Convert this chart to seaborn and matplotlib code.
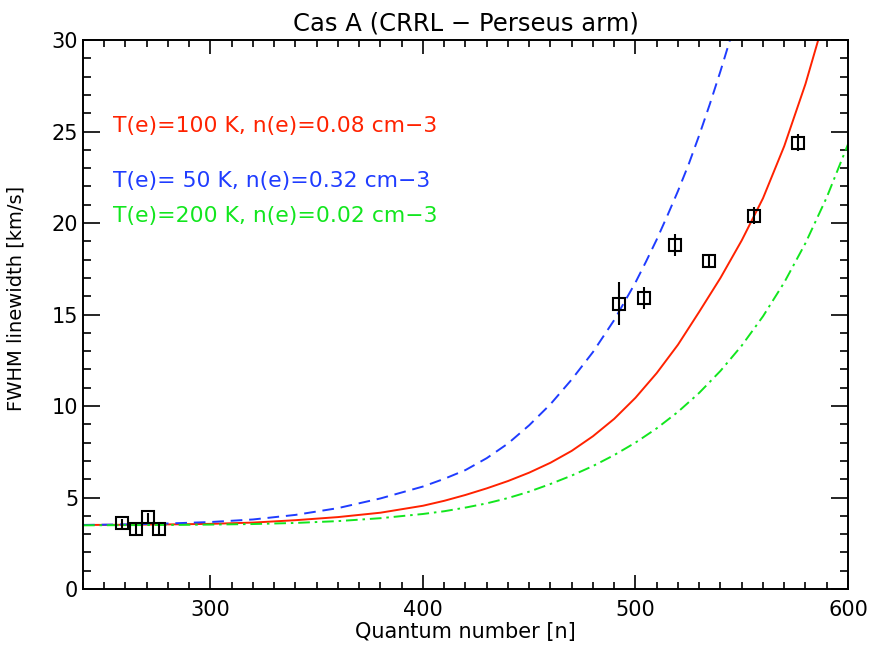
import numpy as np
import pandas as pd
import matplotlib
matplotlib.use("Agg")
import matplotlib.pyplot as plt
from matplotlib.ticker import MultipleLocator
import seaborn as sns

# Observed data
obs_n = [258.3, 264.9, 270.5, 275.7, 492.1, 504.0, 518.4, 534.8, 556.0, 576.6]
obs_fwhm = [3.6, 3.28, 3.93, 3.28, 15.6, 15.9, 18.8, 17.95, 20.4, 24.4]
obs_err = [0.25, 0.25, 0.25, 0.25, 1.2, 0.6, 0.6, 0.35, 0.45, 0.45]

# Model curves
red_n = [240, 260, 280, 300, 320, 340, 360, 380, 400, 410, 420, 430, 440, 450, 460, 470,
         480, 490, 500, 510, 520, 530, 540, 550, 560, 570, 580, 590]
red_v = [3.50, 3.51, 3.53, 3.56, 3.63, 3.76, 3.93, 4.17, 4.55, 4.82, 5.14, 5.5, 5.9, 6.36, 6.9, 7.55,
         8.35, 9.3, 10.45, 11.8, 13.35, 15.15, 17.0, 19.05, 21.35, 24.2, 27.6, 31.6]

blue_n = [240, 260, 280, 300, 320, 340, 360, 380, 400, 410, 420, 430, 440, 450, 460, 470,
          480, 490, 500, 505, 510, 515, 520, 525, 530, 535, 540, 545, 550]
blue_v = [3.50, 3.53, 3.58, 3.66, 3.80, 4.05, 4.42, 4.95, 5.6, 6.02, 6.5, 7.15, 7.95, 8.95, 10.1, 11.45,
          12.95, 14.7, 16.75, 17.9, 19.1, 20.4, 21.75, 23.2, 24.8, 26.5, 28.3, 30.2, 32.2]

green_n = [240, 260, 280, 300, 320, 340, 360, 380, 400, 410, 420, 430, 440, 450, 460, 470,
           480, 490, 500, 510, 520, 530, 540, 550, 560, 570, 580, 590, 600]
green_v = [3.48, 3.49, 3.50, 3.52, 3.55, 3.61, 3.71, 3.87, 4.10, 4.25, 4.45, 4.68, 4.97, 5.32, 5.74, 6.2,
           6.72, 7.32, 8.0, 8.78, 9.68, 10.72, 11.92, 13.3, 14.9, 16.75, 18.9, 21.4, 24.3]

labels = ["T(e)=100 K, n(e)=0.08 cm\u22123",
          "T(e)= 50 K, n(e)=0.32 cm\u22123",
          "T(e)=200 K, n(e)=0.02 cm\u22123"]
label_y = [25.3, 22.3, 20.4]
colors = ["#ff2200", "#1f3cff", "#12e61e"]

sns.set_style("ticks")
plt.rcParams['font.family'] = ['DejaVu Sans']
plt.rcParams['text.color'] = 'black'
plt.rcParams['axes.labelcolor'] = 'black'
plt.rcParams['xtick.color'] = 'black'
plt.rcParams['ytick.color'] = 'black'

fig = plt.figure(figsize=(8.69, 6.53), dpi=100)
ax = fig.add_axes([0.0955, 0.098, 0.8803, 0.8407])

sns.lineplot(x=red_n, y=red_v, ax=ax, color=colors[0], lw=1.4, sort=False)
sns.lineplot(x=blue_n, y=blue_v, ax=ax, color=colors[1], lw=1.4, sort=False)
ax.lines[-1].set_dashes([6, 3.5])
sns.lineplot(x=green_n, y=green_v, ax=ax, color=colors[2], lw=1.4, sort=False)
ax.lines[-1].set_dashes([6, 2.5, 1.3, 2.5])

ax.errorbar(obs_n, obs_fwhm, yerr=obs_err, fmt='s', ms=8.5, mfc='none',
            mec='black', mew=1.5, ecolor='black', elinewidth=1.5, capsize=0, zorder=5)

for lab, yy, c in zip(labels, label_y, colors):
    ax.text(254.1, yy, lab, color=c, fontsize=15.75, va='center', ha='left')

ax.set_xlim(240, 600)
ax.set_ylim(0, 30)
ax.xaxis.set_major_locator(MultipleLocator(100))
ax.xaxis.set_minor_locator(MultipleLocator(10))
ax.yaxis.set_major_locator(MultipleLocator(5))
ax.yaxis.set_minor_locator(MultipleLocator(1))
ax.tick_params(which='both', direction='in', top=True, right=True, width=1.2, labelsize=15)
ax.tick_params(which='major', length=12)
ax.tick_params(which='minor', length=6)
ax.tick_params(axis='x', which='major', length=10, pad=8)
ax.tick_params(axis='x', which='minor', length=5)
for s in ax.spines.values():
    s.set_visible(True)
    s.set_linewidth(1.4)
    s.set_color('black')

ax.set_xlabel("Quantum number [n]", fontsize=15, labelpad=1)
ax.set_ylabel("FWHM linewidth [km/s]", fontsize=14)
ax.yaxis.set_label_coords(-0.075, 0.53)
ax.set_title("Cas A (CRRL \u2212 Perseus arm)", fontsize=17.5, pad=7)

fig.savefig("out.png", dpi=100)
